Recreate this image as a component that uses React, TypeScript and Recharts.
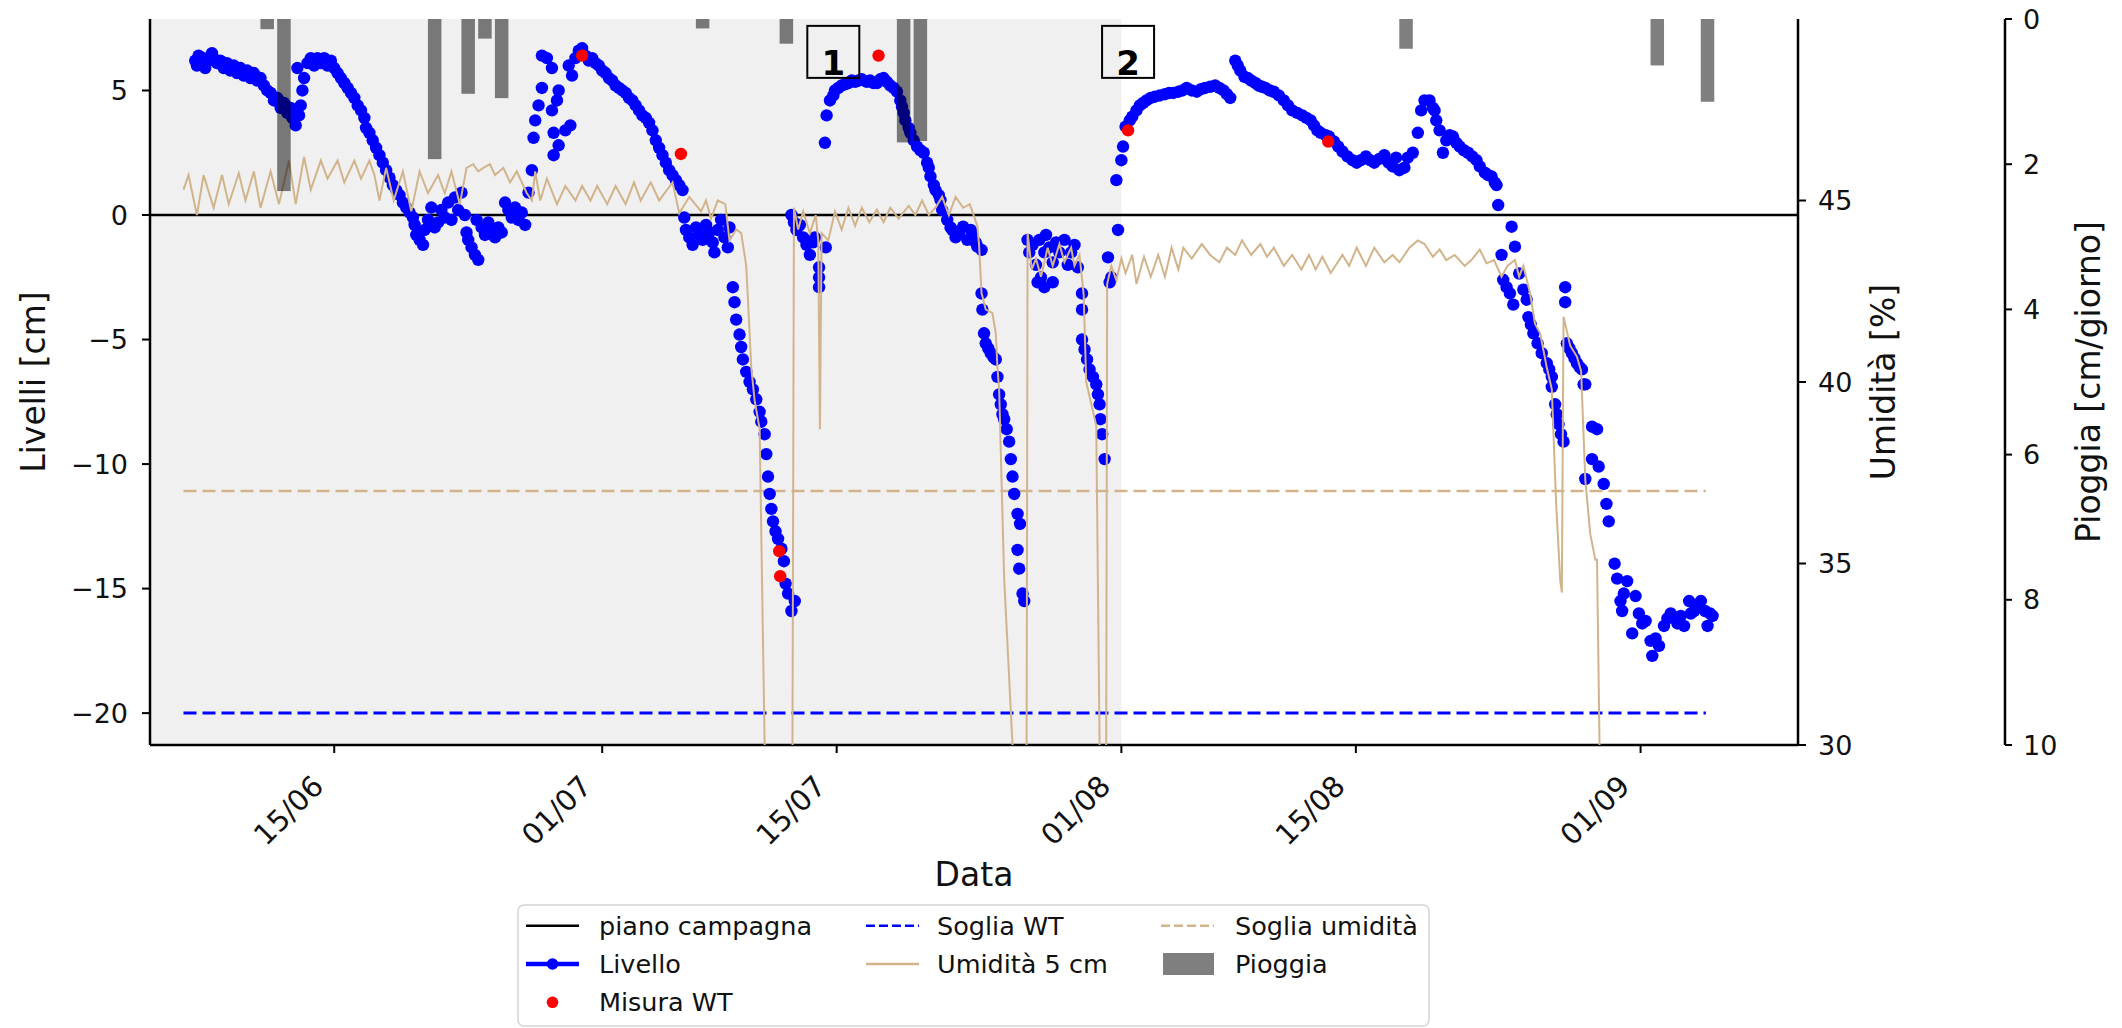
import React from 'react';
import {
  ComposedChart, XAxis, YAxis, Scatter, Line, Bar,
  ReferenceArea, ReferenceLine, ReferenceDot,
} from 'recharts';

const FONT = '"DejaVu Sans", "Noto Sans", sans-serif';
const INK = '#111';

// giorni contati dal 01/06 (0 = 01/06)
const tickDays = [14, 30, 44, 61, 75, 92];
const tickLabels = ['15/06', '01/07', '15/07', '01/08', '15/08', '01/09'];

const livelliTicks = [-20, -15, -10, -5, 0, 5];
const umiditaTicks = [30, 35, 40, 45];
const pioggiaTicks = [0, 2, 4, 6, 8, 10];

// Livello [giorno, cm]
const livello: [number, number][] = [
  [5.7, 6.2], [5.8, 6.0], [5.9, 6.4], [6.0, 6.1], [6.2, 6.3], [6.3, 5.9], [6.5, 6.2], [6.7, 6.5], [6.8, 6.3],
  [7.0, 6.1], [7.2, 6.2], [7.4, 5.9], [7.6, 6.1], [7.8, 5.8], [8.0, 6.0], [8.2, 5.7], [8.4, 5.9], [8.6, 5.6],
  [8.8, 5.8], [9.0, 5.5], [9.2, 5.7], [9.4, 5.4], [9.6, 5.5], [9.8, 5.2], [10.0, 5.0], [10.2, 4.9], [10.4, 4.6],
  [10.6, 4.7], [10.8, 4.3], [11.0, 4.5], [11.2, 4.1], [11.4, 4.3], [11.5, 3.9], [11.7, 3.6], [11.8, 5.9],
  [11.9, 4.0], [12.0, 4.4], [12.1, 5.0], [12.2, 5.5],
  [12.4, 6.1], [12.6, 6.3], [12.8, 6.0], [13.0, 6.3], [13.2, 6.1], [13.4, 6.3], [13.6, 6.0], [13.8, 6.2],
  [14.0, 5.9], [14.2, 5.7], [14.4, 5.5], [14.6, 5.3], [14.8, 5.1], [15.0, 4.9], [15.2, 4.7], [15.4, 4.4],
  [15.6, 4.2], [15.8, 3.9], [15.9, 3.5], [16.1, 3.3], [16.3, 3.0], [16.5, 2.7], [16.7, 2.4], [16.9, 2.1],
  [17.1, 1.8], [17.3, 1.5], [17.5, 1.2], [17.7, 1.0], [17.9, 0.8], [18.1, 0.5], [18.3, 0.3], [18.5, 0.1], [18.7, -0.1],
  [18.8, -0.4], [18.9, -0.8], [19.1, -1.0], [19.3, -1.2], [19.4, -0.6], [19.6, -0.2], [19.8, 0.3], [20.0, -0.5],
  [20.2, -0.3], [20.4, 0.2], [20.6, -0.1], [20.8, 0.5], [21.0, -0.2], [21.2, 0.7], [21.4, 0.2], [21.6, 0.9],
  [21.8, 0.0], [21.9, -0.7], [22.0, -1.0], [22.2, -1.3], [22.4, -1.6], [22.6, -1.8], [22.5, -0.2], [22.8, -0.5],
  [23.0, -0.8], [23.2, -0.3], [23.4, -0.6], [23.6, -0.9], [23.8, -0.5], [24.0, -0.7], [24.2, 0.5], [24.4, 0.2],
  [24.6, -0.1], [24.8, 0.3], [25.0, -0.2], [25.2, 0.1], [25.4, -0.4], [25.6, 0.9],
  [25.8, 1.8], [25.9, 3.1], [26.0, 3.8], [26.2, 4.4], [26.4, 5.1], [26.4, 6.4], [26.7, 6.3], [27.0, 5.9],
  [27.0, 4.2], [27.3, 4.6], [27.4, 5.0], [27.1, 3.3], [27.1, 2.4], [27.4, 2.8], [27.8, 3.4], [28.1, 3.6],
  [28.0, 6.0], [28.2, 5.6], [28.4, 6.3], [28.6, 6.6], [28.8, 6.7],
  [29.0, 6.4], [29.2, 6.2], [29.4, 6.3], [29.6, 6.1], [29.8, 6.0], [30.0, 5.8], [30.2, 5.7], [30.4, 5.5],
  [30.6, 5.4], [30.8, 5.2], [31.0, 5.1], [31.2, 5.0], [31.4, 4.9], [31.6, 4.7], [31.8, 4.6], [32.0, 4.4],
  [32.2, 4.2], [32.4, 4.0], [32.6, 3.9], [32.8, 3.7], [33.0, 3.4], [33.2, 3.0], [33.4, 2.7], [33.6, 2.4],
  [33.8, 2.1], [34.0, 1.8], [34.2, 1.6], [34.4, 1.4], [34.6, 1.2], [34.8, 1.0], [34.9, -0.1],
  [35.0, -0.6], [35.2, -0.9], [35.4, -1.2], [35.6, -0.5], [35.8, -0.8], [36.0, -1.0], [36.2, -0.4], [36.4, -0.7],
  [36.6, -1.1], [36.7, -1.5], [36.9, -0.6], [37.1, -0.2], [37.3, -0.9], [37.5, -1.3], [37.6, -0.5],
  [37.8, -2.9], [37.9, -3.5], [38.0, -4.2], [38.2, -4.8], [38.3, -5.3], [38.4, -5.8], [38.6, -6.3], [38.8, -6.7],
  [39.0, -7.0], [39.2, -7.4], [39.4, -7.9], [39.5, -8.3], [39.7, -8.8], [39.8, -9.6], [39.9, -10.5], [40.0, -11.2],
  [40.1, -11.8], [40.2, -12.3], [40.35, -12.7], [40.5, -13.0], [40.7, -13.4], [40.85, -13.9], [40.95, -14.8],
  [41.1, -15.2], [41.3, -15.9], [41.5, -15.5],
  [41.3, 0.0], [41.45, -0.3], [41.6, -0.6], [41.8, -0.4], [42.0, -0.9], [42.2, -1.2], [42.4, -1.6], [42.6, -1.1],
  [42.7, -0.9], [42.95, -2.1], [42.95, -2.5], [42.95, -2.9], [43.35, -1.3],
  [43.3, 2.9], [43.4, 4.0], [43.6, 4.6], [43.8, 4.8], [43.9, 5.0], [44.1, 5.1], [44.3, 5.2], [44.5, 5.25],
  [44.7, 5.3], [44.9, 5.4], [45.1, 5.35], [45.3, 5.4], [45.5, 5.45], [45.8, 5.35], [46.0, 5.4], [46.2, 5.3],
  [46.4, 5.3], [46.6, 5.45], [46.8, 5.5], [47.0, 5.35], [47.2, 5.2], [47.4, 5.1], [47.6, 4.95], [47.8, 4.6],
  [47.9, 4.35], [48.0, 4.1], [48.1, 3.8], [48.3, 3.5], [48.4, 3.3], [48.6, 3.0], [48.8, 2.75], [49.0, 2.6],
  [49.2, 2.5], [49.4, 2.1], [49.5, 1.9], [49.6, 1.55], [49.8, 1.2], [49.9, 1.0], [50.1, 0.8], [50.2, 0.6], [50.3, 0.2],
  [50.6, -0.2], [50.8, -0.5], [50.9, -0.6], [51.1, -0.9], [51.3, -0.74], [51.55, -0.47], [51.8, -1.0], [52.0, -0.6],
  [52.1, -0.74], [52.3, -1.1], [52.4, -1.27], [52.65, -1.4],
  [52.65, -3.15], [52.7, -3.8], [52.8, -4.75], [52.9, -5.15], [53.05, -5.35], [53.2, -5.55], [53.35, -5.7],
  [53.5, -5.8], [53.6, -6.5], [53.7, -7.2], [53.8, -7.6], [53.9, -8.0], [54.0, -8.2], [54.15, -8.6], [54.3, -9.1],
  [54.4, -9.8], [54.5, -10.5], [54.6, -11.2], [54.8, -12.0], [54.95, -12.4], [54.8, -13.45], [54.9, -14.2],
  [55.1, -15.2], [55.2, -15.5],
  [55.4, -1.0], [55.5, -1.5], [55.7, -1.2], [55.9, -2.0], [56.0, -2.7], [56.1, -1.0], [56.2, -2.5], [56.4, -1.5],
  [56.4, -2.9], [56.5, -0.8], [56.7, -1.3], [56.9, -1.9], [56.9, -2.7], [57.1, -1.1], [57.3, -1.5], [57.6, -1.0],
  [57.8, -2.0], [58.0, -1.5], [58.2, -1.2], [58.4, -2.1], [58.65, -3.15], [58.65, -3.8],
  [58.65, -5.0], [58.8, -5.4], [58.95, -5.8], [59.1, -6.2], [59.3, -6.5], [59.5, -6.8], [59.6, -7.2], [59.7, -7.6],
  [59.75, -8.2], [59.85, -8.8], [60.0, -9.8],
  [60.2, -1.7], [60.3, -2.7], [60.4, -2.5], [60.8, -0.6], [60.7, 1.4], [61.0, 2.2], [61.1, 2.75], [61.25, 3.55],
  [61.5, 3.8], [61.65, 3.95], [61.9, 4.2], [62.1, 4.4], [62.3, 4.5], [62.5, 4.6], [62.75, 4.7], [63.0, 4.75],
  [63.3, 4.8], [63.6, 4.85], [63.85, 4.9], [64.1, 4.9], [64.4, 4.95], [64.65, 5.0], [64.9, 5.1], [65.2, 5.0],
  [65.5, 4.95], [65.75, 5.05], [66.0, 5.1], [66.3, 5.15], [66.6, 5.2], [66.85, 5.1], [67.1, 5.0], [67.3, 4.85], [67.5, 4.7],
  [67.8, 6.2], [67.95, 6.0], [68.1, 5.8], [68.35, 5.55], [68.55, 5.5], [68.75, 5.4], [69.0, 5.3], [69.2, 5.2],
  [69.4, 5.15], [69.6, 5.1], [69.85, 5.0], [70.1, 4.95], [70.4, 4.8], [70.7, 4.6], [70.95, 4.4], [71.2, 4.2],
  [71.5, 4.1], [71.8, 4.0], [72.05, 3.9], [72.3, 3.8], [72.5, 3.6], [72.7, 3.4], [72.9, 3.3], [73.2, 3.2],
  [73.4, 3.15], [73.7, 2.95], [73.95, 2.75], [74.2, 2.55], [74.5, 2.35], [74.8, 2.2], [75.05, 2.1], [75.3, 2.2],
  [75.6, 2.35], [75.85, 2.2], [76.1, 2.1], [76.4, 2.25], [76.7, 2.4], [76.95, 2.1], [77.2, 1.95], [77.4, 2.3],
  [77.6, 1.8], [77.9, 1.9], [78.1, 2.3], [78.4, 2.5],
  [78.7, 3.3], [78.9, 4.2], [79.1, 4.6], [79.4, 4.6], [79.6, 4.3], [79.7, 4.2], [79.8, 3.8], [80.0, 3.4],
  [80.2, 2.5], [80.4, 3.0], [80.6, 3.2], [80.8, 3.15], [81.0, 2.9], [81.2, 2.75], [81.45, 2.6], [81.7, 2.5],
  [81.95, 2.35], [82.2, 2.2], [82.4, 1.95], [82.7, 1.7], [82.9, 1.6], [83.1, 1.55], [83.3, 1.3], [83.4, 1.2], [83.5, 0.4],
  [83.7, -1.6], [83.8, -2.6], [84.0, -2.9], [84.2, -3.15], [84.3, -0.47], [84.4, -3.6], [84.5, -1.27], [84.75, -2.35],
  [85.0, -3.0], [85.2, -3.4], [85.3, -4.1], [85.45, -4.4], [85.6, -4.75], [85.85, -5.15], [86.1, -5.55], [86.4, -5.95],
  [86.55, -6.2], [86.7, -6.5], [86.7, -6.9], [86.9, -7.6], [87.0, -8.0], [87.1, -8.4], [87.25, -8.8], [87.4, -9.1],
  [87.5, -2.9], [87.5, -3.5], [87.6, -5.15], [87.75, -5.35], [87.9, -5.55], [88.05, -5.75], [88.2, -5.95], [88.35, -6.1],
  [88.5, -6.2], [88.6, -6.8], [88.7, -6.8], [89.1, -8.5], [89.4, -8.6], [89.1, -9.8], [88.7, -10.6], [89.5, -10.1],
  [89.8, -10.8], [89.96, -11.6], [90.1, -12.3], [90.45, -14.0], [90.6, -14.6], [91.2, -14.7], [90.8, -15.5],
  [90.9, -15.9], [91.0, -15.2], [91.7, -15.3], [91.5, -16.8], [91.9, -16.0], [92.1, -16.4], [92.3, -16.3],
  [92.6, -17.1], [92.7, -17.7], [92.9, -17.0], [93.1, -17.3], [93.4, -16.5], [93.6, -16.2], [93.8, -16.0],
  [94.0, -16.2], [94.2, -16.4], [94.4, -16.1], [94.6, -16.5], [94.9, -15.5], [95.0, -16.0], [95.2, -15.9],
  [95.4, -15.7], [95.6, -15.5], [95.85, -15.9], [96.0, -16.5], [96.15, -16.0], [96.3, -16.1],
];

// Misura WT [giorno, cm]
const misuraWT: [number, number][] = [
  [28.8, 6.4], [34.7, 2.45], [40.57, -13.5], [40.63, -14.5], [46.5, 6.4], [61.4, 3.4], [73.35, 2.95],
];

// Umidità 5 cm [giorno, %]
const umidita5cm: [number, number][] = [
  [5.0, 45.3], [5.3, 45.7], [5.8, 44.6], [6.2, 45.7], [6.8, 44.8], [7.3, 45.7], [7.7, 44.9], [8.3, 45.75],
  [8.7, 45.0], [9.2, 45.8], [9.6, 44.8], [10.2, 45.8], [10.7, 44.9], [11.3, 46.1], [11.7, 44.9], [12.2, 46.2],
  [12.6, 45.3], [13.2, 46.1], [13.6, 45.6], [14.2, 46.1], [14.6, 45.5], [15.2, 46.1], [15.6, 45.6], [16.1, 46.1],
  [16.4, 45.7], [16.7, 45.0], [17.1, 45.9], [17.55, 45.0], [18.1, 45.8], [18.6, 44.7], [19.1, 45.8], [19.6, 45.2],
  [20.2, 45.7], [20.6, 45.2], [21.0, 45.8], [21.5, 44.9], [21.9, 45.9], [22.3, 46.0], [22.6, 45.8], [22.9, 45.9],
  [23.3, 46.0], [23.6, 45.7], [24.1, 45.9], [24.5, 45.5], [24.9, 45.8], [25.5, 45.2], [25.8, 45.0], [26.0, 45.8],
  [26.3, 45.0], [26.7, 45.6], [27.3, 44.9], [27.8, 45.4], [28.4, 45.0], [28.8, 45.4], [29.3, 45.0], [29.7, 45.4],
  [30.3, 44.9], [30.8, 45.4], [31.4, 44.9], [31.9, 45.5], [32.3, 45.0], [32.9, 45.5], [33.4, 45.0], [34.2, 45.5],
  [34.6, 44.65], [35.2, 45.1], [35.9, 44.7], [36.2, 45.0], [36.5, 44.5], [36.9, 45.0], [37.35, 44.9], [37.6, 43.9],
  [38.0, 44.2], [38.3, 44.1], [38.6, 43.2], [38.7, 42.3], [38.9, 40.4], [39.1, 39.5], [39.4, 38.7], [39.7, 30],
  [39.8, 20], [41.3, 20], [41.45, 44.8], [41.7, 44.2], [42.0, 44.7], [42.4, 44.1], [42.75, 44.6], [42.9, 43.9],
  [43.0, 38.7], [43.1, 44.1], [43.5, 43.9], [43.9, 44.7], [44.3, 44.2], [44.7, 44.8], [45.1, 44.3], [45.5, 44.8],
  [45.95, 44.4], [46.4, 44.75], [46.8, 44.4], [47.2, 44.8], [47.7, 44.5], [48.3, 44.85], [48.7, 44.6], [49.1, 45.0],
  [49.5, 44.6], [49.9, 44.8], [50.3, 45.1], [50.7, 44.6], [51.1, 45.1], [51.55, 44.8], [51.95, 44.9], [52.4, 44.3],
  [52.5, 43.8], [52.65, 42.45], [52.9, 42.0], [53.3, 41.9], [53.5, 41.35], [53.6, 40.4], [53.7, 39.8], [54.0, 34.6],
  [54.5, 30], [54.6, 20], [55.3, 20], [55.4, 44.1], [55.65, 43.1], [55.9, 43.4], [56.2, 42.9], [56.6, 43.7],
  [56.9, 43.2], [57.3, 43.8], [57.6, 43.3], [58.0, 43.7], [58.2, 43.2], [58.5, 43.5], [58.75, 42.4], [58.9, 40.0],
  [59.5, 38.8], [59.7, 30], [59.8, 20], [60.05, 20], [60.15, 42.7], [60.4, 43.2], [60.7, 42.8], [61.0, 43.4],
  [61.25, 43.0], [61.65, 43.5], [61.9, 42.7], [62.35, 43.45], [62.75, 42.9], [63.2, 43.5], [63.6, 42.9], [64.0, 43.7],
  [64.4, 43.1], [64.7, 43.7], [65.2, 43.4], [65.8, 43.8], [66.3, 43.5], [66.85, 43.3], [67.3, 43.7], [67.8, 43.5],
  [68.2, 43.9], [68.75, 43.5], [69.3, 43.8], [69.7, 43.45], [70.1, 43.7], [70.7, 43.2], [71.2, 43.5], [71.75, 43.1],
  [72.2, 43.5], [72.6, 43.1], [73.0, 43.45], [73.5, 43.0], [74.2, 43.5], [74.6, 43.2], [75.05, 43.7], [75.6, 43.2],
  [76.1, 43.7], [76.7, 43.3], [77.2, 43.5], [77.6, 43.3], [78.2, 43.7], [78.7, 43.9], [79.1, 43.8], [79.6, 43.45],
  [80.0, 43.65], [80.4, 43.36], [80.9, 43.5], [81.5, 43.2], [81.9, 43.36], [82.4, 43.65], [82.8, 43.27], [83.25, 43.36],
  [83.7, 42.9], [84.05, 43.2], [84.5, 43.36], [84.75, 42.9], [85.0, 43.2], [85.4, 42.45], [85.7, 41.6], [86.0, 41.35],
  [86.4, 40.4], [86.7, 39.8], [86.95, 36.75], [87.2, 34.55], [87.3, 34.2], [87.4, 41.8], [87.8, 41.0], [88.2, 40.7],
  [88.45, 40.3], [88.7, 37.3], [89.0, 35.8], [89.3, 35.1], [89.4, 35.1], [89.55, 30], [89.6, 20], [95.9, 20],
];

// Pioggia [cm/giorno]
const pioggiaGiorni = [10, 11, 20, 22, 23, 24, 36, 41, 48, 49, 78, 93, 96];
const pioggiaValori = [0.14, 2.37, 1.93, 1.03, 0.27, 1.09, 0.13, 0.34, 1.7, 1.68, 0.41, 0.64, 1.14];

const PIANO_CAMPAGNA = 0;
const SOGLIA_WT = -20;
const SOGLIA_UMIDITA = 37;
const SOGLIE_DA = 5.0;
const SOGLIE_A = 95.9;
const FINE_PERIODO_GRIGIO = 61;
const annotazioni = [{ label: '1', giorno: 43.8 }, { label: '2', giorno: 61.4 }];
const ANNOT_LIVELLO = 6.55;

const X_DOMAIN: [number, number] = [3.0, 101.4];
const LIV_DOMAIN: [number, number] = [-21.28, 7.87];
const BAR_PX = 13.5;

const livelloData = livello.map(([t, v]) => ({ t, v }));
const misuraData = misuraWT.map(([t, v]) => ({ t, v }));
const umiditaData = umidita5cm.map(([t, u]) => ({ t, u }));
const pioggiaData = pioggiaGiorni.map((t, i) => ({ t, p: pioggiaValori[i] }));

const fmtMinus = (v: number) => (v < 0 ? `\u2212${Math.abs(v)}` : `${v}`);

const DateTick = (props: any) => {
  const { x, y, payload } = props;
  const i = tickDays.indexOf(payload.value);
  const ax = x - 9;
  const ay = y + 33;
  return (
    <text x={ax} y={ay} transform={`rotate(-45 ${ax} ${ay})`} textAnchor="end"
      fontSize={29} fontFamily={FONT} fill={INK}>
      {i >= 0 ? tickLabels[i] : ''}
    </text>
  );
};

const yTitle = (text: string, dx: number) => (props: any) => {
  const vb = props.viewBox ?? { x: 0, y: 0, width: 0, height: 0 };
  const x = vb.x + dx;
  const y = vb.y + vb.height / 2;
  return (
    <text x={x} y={y} transform={`rotate(-90 ${x} ${y})`} textAnchor="middle" dominantBaseline="central"
      fontSize={33} fontFamily={FONT} fill={INK}>
      {text}
    </text>
  );
};

const xTitle = (props: any) => {
  const vb = props.viewBox ?? { x: 0, y: 0, width: 0, height: 0 };
  return (
    <text x={vb.x + vb.width / 2} y={vb.y + 129} textAnchor="middle" dominantBaseline="central"
      fontSize={33} fontFamily={FONT} fill={INK}>
      Data
    </text>
  );
};

const dot = (color: string) => (p: any) => <circle cx={p.cx} cy={p.cy} r={6.2} fill={color} />;

// bar centred on its day, fixed width, height from the rain axis scale
const RainBar = (p: any) => {
  if (p.x == null || p.y == null) return <g />;
  const cx = p.x + p.width / 2;
  const y = Math.min(p.y, p.y + p.height);
  const h = Math.abs(p.height);
  return <rect x={cx - BAR_PX / 2} y={y} width={BAR_PX} height={h} fill="#000" fillOpacity={0.5} />;
};

const annotBox = (label: string) => (p: any) => (
  <g>
    <rect x={p.cx - 26} y={p.cy - 26} width={52} height={52} fill="none" stroke="#000" strokeWidth={2} />
    <text x={p.cx} y={p.cy + 23} textAnchor="middle" fontSize={34} fontWeight="bold" fontFamily={FONT} fill="#000">
      {label}
    </text>
  </g>
);

const Legenda = () => {
  const rows = [21.7, 60, 98.3];
  const hx = [9, 349, 644];
  const tx = [82, 420, 718];
  const txt = (c: number, r: number, s: string) => (
    <text x={tx[c]} y={rows[r]} dominantBaseline="central" fontSize={25.5} fontFamily={FONT} fill={INK}>{s}</text>
  );
  return (
    <svg width={914} height={123} style={{ position: 'absolute', left: 517, top: 904 }}>
      <rect x={1} y={1} width={911} height={121} rx={6} fill="#fff" fillOpacity={0.85} stroke="#d3d3d3" strokeWidth={1.5} />
      <line x1={hx[0]} x2={hx[0] + 53} y1={rows[0]} y2={rows[0]} stroke="#000" strokeWidth={2.5} />
      {txt(0, 0, 'piano campagna')}
      <line x1={hx[0]} x2={hx[0] + 53} y1={rows[1]} y2={rows[1]} stroke="#0000ff" strokeWidth={4.5} />
      <circle cx={hx[0] + 26.5} cy={rows[1]} r={5.8} fill="#0000ff" />
      {txt(0, 1, 'Livello')}
      <circle cx={hx[0] + 26.5} cy={rows[2]} r={5.8} fill="#ff0000" />
      {txt(0, 2, 'Misura WT')}
      <line x1={hx[1]} x2={hx[1] + 53} y1={rows[0]} y2={rows[0]} stroke="#0000ff" strokeWidth={2.5} strokeDasharray="9 4" />
      {txt(1, 0, 'Soglia WT')}
      <line x1={hx[1]} x2={hx[1] + 53} y1={rows[1]} y2={rows[1]} stroke="#d2b48c" strokeWidth={2.5} />
      {txt(1, 1, 'Umidità 5 cm')}
      <line x1={hx[2]} x2={hx[2] + 53} y1={rows[0]} y2={rows[0]} stroke="#d2b48c" strokeWidth={2.5} strokeDasharray="9 4" />
      {txt(2, 0, 'Soglia umidità')}
      <rect x={hx[2] + 2} y={rows[1] - 11} width={51} height={22} fill="#000" fillOpacity={0.5} />
      {txt(2, 1, 'Pioggia')}
    </svg>
  );
};

export default function App() {
  const axisLine = { stroke: '#000', strokeWidth: 2.5 };
  const tickLine = { stroke: '#000', strokeWidth: 2 };
  const tickStyle = { fill: INK, fontSize: 27, fontFamily: FONT };
  return (
    <div style={{ position: 'absolute', left: 0, top: 0, width: 2122, height: 1028, background: '#fff' }}>
      <ComposedChart width={2122} height={1028} data={pioggiaData} margin={{ top: 19, right: 0, bottom: 0, left: 0 }}>
        <XAxis xAxisId="x" dataKey="t" type="number" domain={X_DOMAIN} allowDataOverflow ticks={tickDays}
          interval={0} height={283} axisLine={axisLine} tickLine={tickLine} tickSize={8} tick={<DateTick />}
          label={xTitle} />
        <XAxis xAxisId="top" orientation="top" type="number" domain={X_DOMAIN} allowDataOverflow height={0}
          tick={false} tickLine={false} axisLine={axisLine} />
        <YAxis yAxisId="a-liv" width={150} type="number" domain={LIV_DOMAIN} allowDataOverflow ticks={livelliTicks}
          interval={0} tickFormatter={fmtMinus} axisLine={axisLine} tickLine={tickLine} tickSize={8} tickMargin={14}
          tick={tickStyle} label={yTitle('Livelli [cm]', 33)} />
        <YAxis yAxisId="c-rain" orientation="right" width={117} type="number" domain={[0, 10]} reversed
          allowDataOverflow ticks={pioggiaTicks} interval={0} axisLine={axisLine} tickLine={tickLine} tickSize={7}
          tickMargin={11} tick={tickStyle} label={yTitle('Pioggia [cm/giorno]', 83)} />
        <YAxis yAxisId="b-umid" orientation="right" width={207} type="number" domain={[30, 50]} allowDataOverflow
          ticks={umiditaTicks} interval={0} axisLine={axisLine} tickLine={tickLine} tickSize={8} tickMargin={12}
          tick={tickStyle} label={yTitle('Umidità [%]', 85)} />

        <ReferenceArea xAxisId="x" yAxisId="a-liv" x1={X_DOMAIN[0]} x2={FINE_PERIODO_GRIGIO} fill="#f0f0f0"
          fillOpacity={1} stroke="none" zIndex={-50} />

        <ReferenceLine xAxisId="x" yAxisId="a-liv" y={PIANO_CAMPAGNA} stroke="#000" strokeWidth={2.5} zIndex={350} />
        <ReferenceLine xAxisId="x" yAxisId="a-liv" segment={[{ x: SOGLIE_DA, y: SOGLIA_WT }, { x: SOGLIE_A, y: SOGLIA_WT }]}
          stroke="#0000ff" strokeWidth={3} strokeDasharray="13 6" zIndex={350} />
        <ReferenceLine xAxisId="x" yAxisId="b-umid" segment={[{ x: SOGLIE_DA, y: SOGLIA_UMIDITA }, { x: SOGLIE_A, y: SOGLIA_UMIDITA }]}
          stroke="#d2b48c" strokeWidth={2.5} strokeDasharray="13 6" zIndex={350} />

        <Scatter xAxisId="x" yAxisId="a-liv" data={livelloData} dataKey="v" shape={dot('#0000ff')}
          isAnimationActive={false} zIndex={600} />
        <Scatter xAxisId="x" yAxisId="a-liv" data={misuraData} dataKey="v" shape={dot('#ff0000')}
          isAnimationActive={false} zIndex={620} />
        <Line xAxisId="x" yAxisId="b-umid" data={umiditaData} dataKey="u" type="linear" stroke="#d2b48c"
          strokeWidth={2} dot={false} activeDot={false} isAnimationActive={false} zIndex={650} />
        <Bar xAxisId="x" yAxisId="c-rain" dataKey="p" barSize={BAR_PX} shape={RainBar}
          isAnimationActive={false} zIndex={700} />

        {annotazioni.map((a) => (
          <ReferenceDot key={a.label} xAxisId="x" yAxisId="a-liv" x={a.giorno} y={ANNOT_LIVELLO} r={1}
            shape={annotBox(a.label)} zIndex={800} />
        ))}
      </ComposedChart>
      <Legenda />
    </div>
  );
}
